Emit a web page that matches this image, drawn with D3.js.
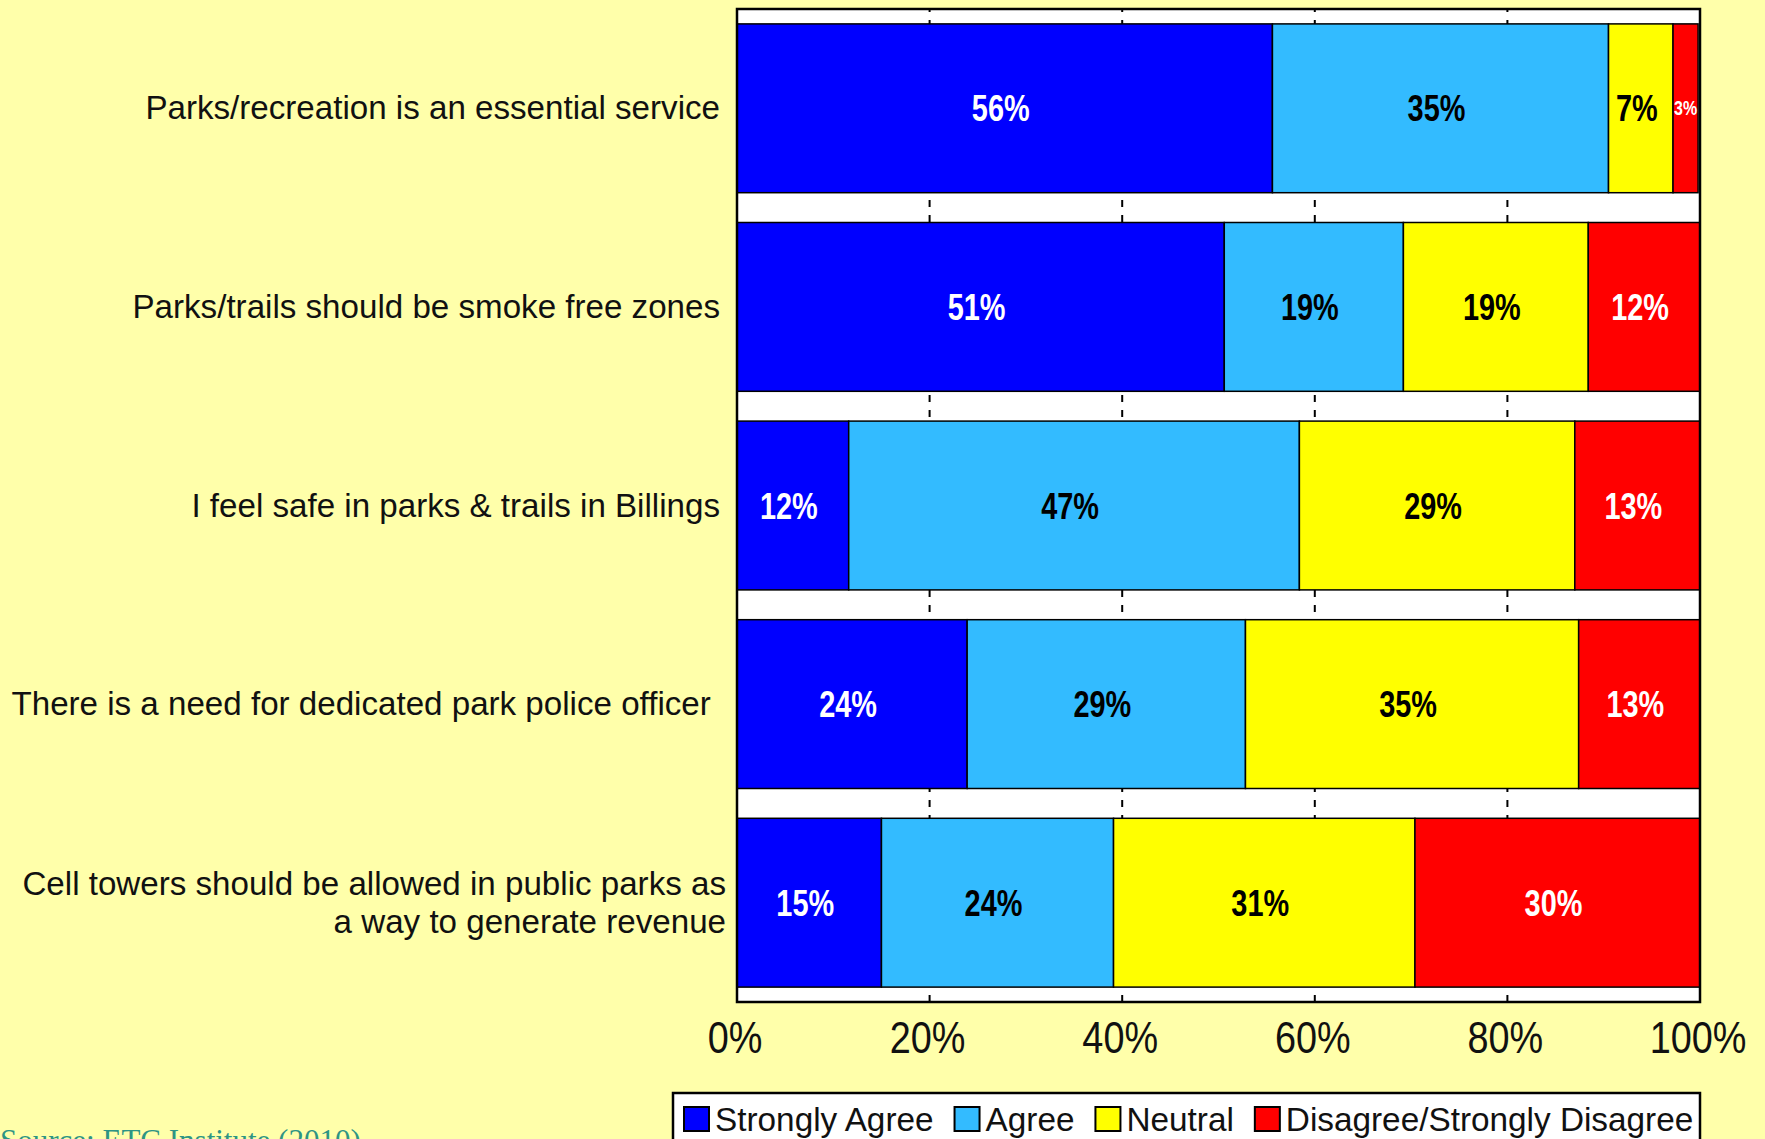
<!DOCTYPE html>
<html>
<head>
<meta charset="utf-8">
<script src="https://cdn.jsdelivr.net/npm/d3@7"></script>
<style>
  html, body { margin: 0; padding: 0; background: #FFFFAA; overflow: hidden; }
  svg { display: block; }
  text { font-family: "Liberation Sans", Arial, sans-serif; white-space: pre; }
</style>
</head>
<body>
<svg id="chart" width="1765" height="1139"></svg>
<script>
const categories = [
  "Parks/recreation is an essential service",
  "Parks/trails should be smoke free zones",
  "I feel safe in parks & trails in Billings",
  "There is a need for dedicated park police officer ",
  "Cell towers should be allowed in public parks as\na way to generate revenue"
];
const seriesNames = ["Strongly Agree", "Agree", "Neutral", "Disagree/Strongly Disagree"];
const stronglyAgree = [55.6, 50.6, 11.6, 23.9, 15.0];
const agree         = [34.9, 18.6, 46.8, 28.9, 24.1];
const neutral       = [6.7, 19.2, 28.6, 34.6, 31.3];
const disagree      = [2.6, 11.6, 13.0, 12.6, 29.6];
const xTicks = [0, 20, 40, 60, 80, 100];
const sourceText = "Source: ETC Institute (2010)";

const colors = ["#0000FF", "#33BBFF", "#FFFF00", "#FF0000"];
const labelColors = ["#FFFFFF", "#000000", "#000000", "#FFFFFF"];

const rows = categories.map((c, i) => ({
  cat: c,
  "Strongly Agree": stronglyAgree[i],
  "Agree": agree[i],
  "Neutral": neutral[i],
  "Disagree/Strongly Disagree": disagree[i]
}));

const svg = d3.select("#chart");
const W = 1765, H = 1139;
svg.append("rect").attr("width", W).attr("height", H).attr("fill", "#FFFFAA");

const plot = { left: 737, right: 1700, top: 9, bottom: 1002 };
const x = d3.scaleLinear().domain([0, 100]).range([plot.left, plot.right]);
const y = d3.scaleBand().domain(categories).range([plot.top, plot.bottom])
  .paddingInner(0.15).paddingOuter(0.075);

function sText(g, px, py, str, opts) {
  const t = g.append("text")
    .attr("transform", `translate(${px},${py}) scale(${opts.sx || 1},1)`)
    .attr("text-anchor", opts.anchor || "start")
    .attr("font-size", opts.size)
    .attr("font-weight", opts.weight || "normal")
    .attr("fill", opts.fill || "#000")
    .text(str);
  if (opts.family) t.style("font-family", opts.family);
  return t;
}

// plot background
svg.append("rect")
  .attr("x", plot.left).attr("y", plot.top)
  .attr("width", plot.right - plot.left).attr("height", plot.bottom - plot.top)
  .attr("fill", "#FFFFFF");

// dashed gridlines
svg.append("g").selectAll("line")
  .data(xTicks.filter(t => t > 0 && t < 100))
  .join("line")
  .attr("x1", d => x(d)).attr("x2", d => x(d))
  .attr("y1", plot.bottom).attr("y2", plot.top)
  .attr("stroke", "#000").attr("stroke-width", 2)
  .attr("stroke-dasharray", "7,8");

// stacked bars
const stack = d3.stack().keys(seriesNames);
const stacked = stack(rows);

const gBars = svg.append("g");
stacked.forEach((layer, si) => {
  gBars.append("g").selectAll("rect")
    .data(layer)
    .join("rect")
    .attr("x", d => x(d[0]))
    .attr("y", d => y(d.data.cat))
    .attr("width", d => x(d[1]) - x(d[0]))
    .attr("height", y.bandwidth())
    .attr("fill", colors[si])
    .attr("stroke", "#000")
    .attr("stroke-width", 1.5);
});

// value labels
const fmt = d3.format(".0f");
const gLab = svg.append("g");
stacked.forEach((layer, si) => {
  layer.forEach(d => {
    const w = x(d[1]) - x(d[0]);
    const cx = (x(d[0]) + x(d[1])) / 2 - (w < 40 ? 0 : 4);
    const cy = y(d.data.cat) + y.bandwidth() / 2;
    const small = w < 40;
    sText(gLab, cx, cy + (small ? 7 : 13), fmt(d[1] - d[0]) + "%", {
      anchor: "middle",
      size: small ? 20 : 37,
      weight: "bold",
      sx: small ? 0.8 : 0.78,
      fill: labelColors[si]
    });
  });
});

// plot frame
svg.append("rect")
  .attr("x", plot.left).attr("y", plot.top)
  .attr("width", plot.right - plot.left).attr("height", plot.bottom - plot.top)
  .attr("fill", "none").attr("stroke", "#000").attr("stroke-width", 2.5);

// category labels
const gCat = svg.append("g");
categories.forEach(c => {
  const lines = c.split("\n");
  const cy = y(c) + y.bandwidth() / 2;
  const lh = 38;
  lines.forEach((ln, li) => {
    const off = (li - (lines.length - 1) / 2) * lh;
    sText(gCat, lines.length > 1 ? 726 : 720, cy + off + 11, ln, {
      anchor: "end", size: 34, sx: 0.975, fill: "#111"
    });
  });
});

// x axis tick labels
const gAx = svg.append("g");
xTicks.forEach(t => {
  sText(gAx, x(t) - 2, 1053, t + "%", { anchor: "middle", size: 44, sx: 0.86, fill: "#111" });
});

// source text (cut off at bottom, as in the original)
sText(svg, 0, 1151, sourceText, {
  anchor: "start", size: 31, fill: "#2E9484", family: "'Liberation Serif', 'Times New Roman', serif"
});

// legend
const leg = svg.append("g");
leg.append("rect")
  .attr("x", 673).attr("y", 1093).attr("width", 1027).attr("height", 70)
  .attr("fill", "#FFFFFF").attr("stroke", "#000").attr("stroke-width", 2.5);
let lx = 684;
const lsx = 0.98;
seriesNames.forEach((name, i) => {
  leg.append("rect")
    .attr("x", lx).attr("y", 1107).attr("width", 25).attr("height", 24)
    .attr("fill", colors[i]).attr("stroke", "#000").attr("stroke-width", 2);
  const t = sText(leg, lx + 31, 1131, name, { anchor: "start", size: 34, sx: lsx, fill: "#111" });
  const tw = t.node().getComputedTextLength() * lsx;
  lx = lx + 31 + tw + 21;
});
</script>
</body>
</html>
